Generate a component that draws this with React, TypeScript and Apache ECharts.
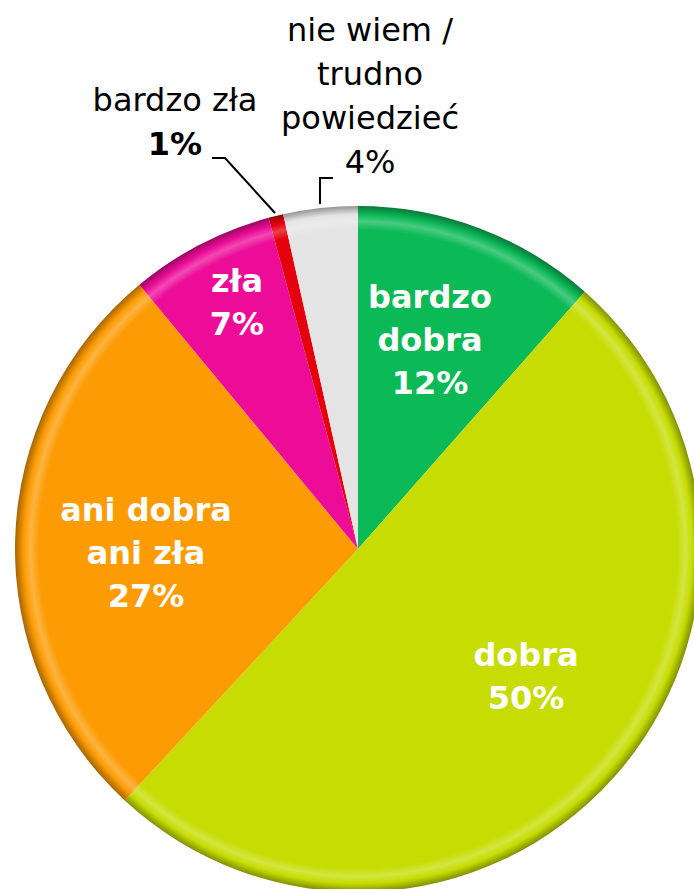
import React, { useEffect, useRef } from "react";
import * as echarts from "echarts";

const categories = [
  "bardzo dobra",
  "dobra",
  "ani dobra ani zła",
  "zła",
  "bardzo zła",
  "nie wiem / trudno powiedzieć",
];
const labelLines = [
  ["bardzo", "dobra"],
  ["dobra"],
  ["ani dobra", "ani zła"],
  ["zła"],
  ["bardzo zła"],
  ["nie wiem /", "trudno", "powiedzieć"],
];
const values = [11.5, 50.4, 27.1, 6.8, 0.7, 3.5];
const percentLabels = ["12%", "50%", "27%", "7%", "1%", "4%"];
const colors = ["#0CB957", "#C6DC02", "#FC9B03", "#EC0C98", "#E4000C", "#E4E4E4"];

// label placement (layout only)
const labelPos: [number, number][] = [
  [430, 340],
  [526, 676],
  [146, 553],
  [237, 302],
  [175, 122],
  [370, 96],
];
const leaderPoints: Record<number, number[][]> = {
  4: [
    [275, 213],
    [225, 158],
    [212, 158],
  ],
  5: [
    [320, 204],
    [320, 178],
    [333, 178],
  ],
};

const CX = 358;
const CY = 549;
const R = 343;

function shade(hex: string, f: number) {
  const n = parseInt(hex.slice(1), 16);
  let r = (n >> 16) & 255, g = (n >> 8) & 255, b = n & 255;
  if (f >= 0) {
    r = Math.round(r + (255 - r) * f);
    g = Math.round(g + (255 - g) * f);
    b = Math.round(b + (255 - b) * f);
  } else {
    r = Math.round(r * (1 + f));
    g = Math.round(g * (1 + f));
    b = Math.round(b * (1 + f));
  }
  return `rgb(${r},${g},${b})`;
}

export default function App() {
  const ref = useRef<HTMLDivElement>(null);
  useEffect(() => {
    if (!ref.current) return;
    const chart = echarts.init(ref.current, undefined, { renderer: "svg" });
    const data = categories.map((name, i) => {
      const outside = i >= 4;
      const c = colors[i];
      return {
        name,
        value: values[i],
        itemStyle: {
          color: new echarts.graphic.RadialGradient(
            CX,
            CY,
            R,
            [
              { offset: 0, color: c },
              { offset: 0.93, color: c },
              { offset: 0.955, color: shade(c, 0.25) },
              { offset: 0.975, color: c },
              { offset: 1, color: shade(c, -0.35) },
            ],
            true
          ),
        },
        label: outside
          ? {
              position: "outside",
              color: "#000",
              fontWeight: "normal",
              formatter: () =>
                labelLines[i].map((l) => `{n|${l}}`).join("\n") +
                (i === 4 ? `\n{b|${percentLabels[i]}}` : `\n{n|${percentLabels[i]}}`),
              rich: {
                n: { fontSize: 32, fontFamily: "DejaVu Sans", color: "#000", lineHeight: 44 },
                b: {
                  fontSize: 32,
                  fontFamily: "DejaVu Sans",
                  fontWeight: "bold",
                  color: "#000",
                  lineHeight: 44,
                },
              },
            }
          : { position: "inside" },
        labelLine: outside
          ? { show: true, lineStyle: { color: "#000", width: 2 } }
          : { show: false },
      };
    });
    chart.setOption({
      animation: false,
      backgroundColor: "#fff",
      series: [
        {
          type: "pie",
          center: [CX, CY],
          radius: [0, R],
          startAngle: 90,
          clockwise: true,
          avoidLabelOverlap: false,
          data,
          itemStyle: { borderWidth: 0 },
          label: {
            show: true,
            color: "#fff",
            fontSize: 32,
            fontWeight: "bold",
            fontFamily: "DejaVu Sans",
            lineHeight: 43,
            align: "center",
            formatter: (p: any) =>
              [...labelLines[p.dataIndex], percentLabels[p.dataIndex]].join("\n"),
          },
          labelLayout: (params: any) => {
            const i = params.dataIndex;
            const res: any = {
              x: labelPos[i][0],
              y: labelPos[i][1],
              align: "center",
              verticalAlign: "middle",
            };
            if (leaderPoints[i]) res.labelLinePoints = leaderPoints[i];
            return res;
          },
          emphasis: { disabled: true },
        },
      ],
    });
    return () => chart.dispose();
  }, []);
  return (
    <div
      ref={ref}
      style={{ position: "fixed", left: 0, top: 0, width: 694, height: 889 }}
    />
  );
}
